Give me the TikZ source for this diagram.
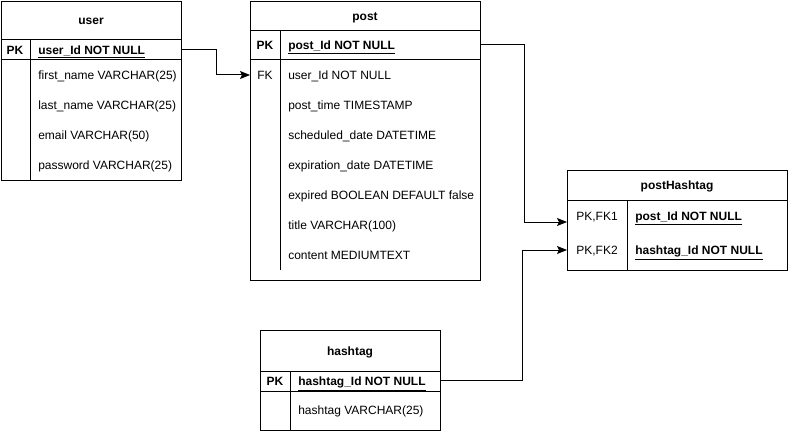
\documentclass[tikz,border=0pt]{standalone}
\usepackage{fontspec}
\setmainfont{Liberation Sans}
\usetikzlibrary{arrows.meta}
\begin{document}
\begin{tikzpicture}[x=0.75pt,y=-0.75pt,
  every node/.style={font=\fontsize{9}{11}\selectfont, inner sep=0pt},
  tbl/.style n args={2}{draw, line width=0.75pt, rectangle, minimum width=#1*0.75pt, minimum height=#2*0.75pt, anchor=north west},
  ln/.style={line width=0.75pt},
  lbl/.style={anchor=base, yshift=-3.3pt},
  ttl/.style={lbl, font=\fontsize{9}{11}\selectfont\bfseries},
  key/.style={lbl, font=\fontsize{9}{11}\selectfont\bfseries},
  fld/.style={anchor=base west, yshift=-3.3pt},
  keyfld/.style={fld, font=\fontsize{9}{11}\selectfont\bfseries},
  conn/.style={line width=0.75pt, -{Stealth[length=7.5pt,width=6pt,inset=1.5pt]}}
]
\useasboundingbox (0,0) rectangle (788,431);

% ---------- user ----------
\node[tbl={180}{179}] (user) at (1,1) {};
\draw[ln] (1,40) -- (181,40);
\draw[ln] (1,60) -- (181,60);
\draw[ln] (30,40) -- (30,180);
\node[ttl] (usert) at (91,20) {user};
\node[key] (upkl) at (15,50) {PK};
\node[keyfld] (upk) at (38,50) {\underline{user\_Id NOT NULL}};
\node[fld] (u1) at (38,75) {first\_name VARCHAR(25)};
\node[fld] (u2) at (38,105) {last\_name VARCHAR(25)};
\node[fld] (u3) at (38,135) {email VARCHAR(50)};
\node[fld] (u4) at (38,165) {password VARCHAR(25)};
\coordinate (upkrow) at (1,50);

% ---------- post ----------
\node[tbl={230}{279}] (post) at (250,1) {};
\draw[ln] (250,31) -- (480,31);
\draw[ln] (250,60) -- (480,60);
\draw[ln] (280,31) -- (280,270);
\node[ttl] (postt) at (365,16) {post};
\node[key] (ppkl) at (265,45) {PK};
\node[keyfld] (ppk) at (288,45) {\underline{post\_Id NOT NULL}};
\node[lbl] (pfkl) at (265,75) {FK};
\node[fld] (pfk) at (288,75) {user\_Id NOT NULL};
\node[fld] (p2) at (288,105) {post\_time TIMESTAMP};
\node[fld] (p3) at (288,135) {scheduled\_date DATETIME};
\node[fld] (p4) at (288,165) {expiration\_date DATETIME};
\node[fld] (p5) at (288,195) {expired BOOLEAN DEFAULT false};
\node[fld] (p6) at (288,225) {title VARCHAR(100)};
\node[fld] (p7) at (288,255) {content MEDIUMTEXT};
\coordinate (ppkrow) at (250,45);
\coordinate (pfkrow) at (250,75);

% ---------- postHashtag ----------
\node[tbl={220}{100}] (ph) at (567,170) {};
\draw[ln] (567,200) -- (787,200);
\draw[ln] (627,200) -- (627,270);
\node[ttl] (pht) at (677,185) {postHashtag};
\node[lbl] (ph1l) at (597,216) {PK,FK1};
\node[keyfld] (ph1) at (635,216) {\underline{post\_Id NOT NULL}};
\node[lbl] (ph2l) at (597,250) {PK,FK2};
\node[keyfld] (ph2) at (635,250) {\underline{hashtag\_Id NOT NULL}};
\coordinate (ph1in) at (567,222);
\coordinate (ph2in) at (567,250);

% ---------- hashtag ----------
\node[tbl={180}{100}] (hash) at (260,330) {};
\draw[ln] (260,371) -- (440,371);
\draw[ln] (260,391) -- (440,391);
\draw[ln] (290,371) -- (290,430);
\node[ttl] (hasht) at (350,351) {hashtag};
\node[key] (hpkl) at (275,381) {PK};
\node[keyfld] (hpk) at (298,381) {\underline{hashtag\_Id NOT NULL}};
\node[fld] (h1) at (298,410) {hashtag VARCHAR(25)};
\coordinate (hpkrow) at (260,380);

% ---------- connectors ----------
\draw[conn] (upkrow -| user.east) -- ++(34,0) |- (pfkrow);
\draw[conn] (ppkrow -| post.east) -- ++(43,0) |- (ph1in);
\draw[conn] (hpkrow -| hash.east) -- ++(81,0) |- (ph2in);
\end{tikzpicture}
\end{document}
